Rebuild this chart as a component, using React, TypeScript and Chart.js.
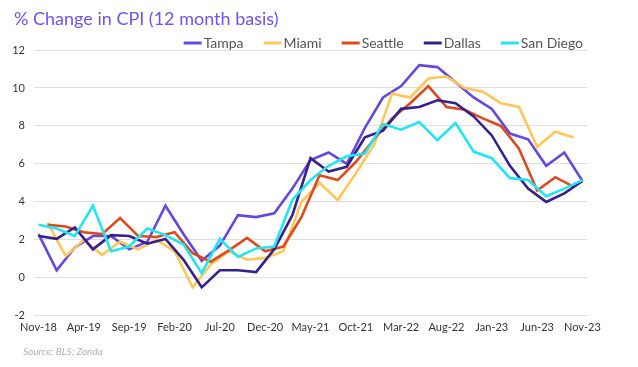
import React, { useEffect, useRef } from "react";
import { Chart, registerables } from "chart.js";

Chart.register(...registerables);

const TITLE = "% Change in CPI (12 month basis)";
const SOURCE = "Source: BLS; Zonda";

// Monthly categories Nov-18 .. Nov-23
const months = [
  "Nov-18", "Dec-18",
  "Jan-19", "Feb-19", "Mar-19", "Apr-19", "May-19", "Jun-19", "Jul-19", "Aug-19", "Sep-19", "Oct-19", "Nov-19", "Dec-19",
  "Jan-20", "Feb-20", "Mar-20", "Apr-20", "May-20", "Jun-20", "Jul-20", "Aug-20", "Sep-20", "Oct-20", "Nov-20", "Dec-20",
  "Jan-21", "Feb-21", "Mar-21", "Apr-21", "May-21", "Jun-21", "Jul-21", "Aug-21", "Sep-21", "Oct-21", "Nov-21", "Dec-21",
  "Jan-22", "Feb-22", "Mar-22", "Apr-22", "May-22", "Jun-22", "Jul-22", "Aug-22", "Sep-22", "Oct-22", "Nov-22", "Dec-22",
  "Jan-23", "Feb-23", "Mar-23", "Apr-23", "May-23", "Jun-23", "Jul-23", "Aug-23", "Sep-23", "Oct-23", "Nov-23",
];

const tickLabels = [
  "Nov-18", "Apr-19", "Sep-19", "Feb-20", "Jul-20", "Dec-20", "May-21",
  "Oct-21", "Mar-22", "Aug-22", "Jan-23", "Jun-23", "Nov-23",
];

const yTicks = [-2, 0, 2, 4, 6, 8, 10, 12];

// Odd calendar months (Nov-18, Jan-19, ... Nov-23)
const tampa = [2.3, 0.4, 1.6, 2.2, 2.2, 1.5, 1.9, 3.8, 2.3, 0.9, 1.7, 3.3, 3.2, 3.4, 4.7, 6.2, 6.6, 6.0, 7.9, 9.5, 10.1, 11.2, 11.1, 10.3, 9.5, 8.9, 7.6, 7.3, 5.9, 6.6, 5.1];
const dallas = [2.2, 2.05, 2.65, 1.5, 2.25, 2.2, 1.8, 2.05, 0.95, -0.5, 0.4, 0.4, 0.3, 1.5, 3.3, 6.3, 5.6, 5.85, 7.4, 7.75, 8.9, 9.0, 9.35, 9.2, 8.5, 7.5, 5.9, 4.7, 4.0, 4.45, 5.1];
const sanDiego = [2.8, 2.6, 2.2, 3.8, 1.4, 1.65, 2.6, 2.25, 1.75, 0.25, 2.05, 1.1, 1.55, 1.65, 4.1, 5.15, 5.9, 6.4, 6.55, 8.1, 7.8, 8.2, 7.25, 8.15, 6.65, 6.3, 5.25, 5.15, 4.3, 4.7, 5.15];

// Even calendar months (Dec-18, Feb-19, ... Oct-23)
const miami = [2.9, 1.15, 2.0, 1.2, 1.9, 1.5, 2.0, 1.4, -0.5, 0.7, 1.4, 0.95, 1.05, 1.4, 4.0, 5.0, 4.1, 5.5, 7.0, 9.7, 9.5, 10.5, 10.6, 10.0, 9.8, 9.2, 9.0, 6.9, 7.7, 7.4];
const seattle = [2.8, 2.7, 2.4, 2.3, 3.15, 2.2, 2.15, 2.4, 1.3, 0.85, 1.45, 2.1, 1.4, 1.65, 3.2, 5.4, 5.15, 6.1, 7.3, 8.4, 9.2, 10.1, 9.0, 8.85, 8.4, 8.0, 6.8, 4.6, 5.3, 4.8];

const seriesNames = ["Tampa", "Miami", "Seattle", "Dallas", "San Diego"];
const seriesColors = ["#6648de", "#ffc65a", "#df4a1c", "#36208c", "#22e5f2"];

// place bimonthly values on the monthly axis (start = first month index)
function spread(values: number[], start: number): (number | null)[] {
  const out: (number | null)[] = months.map(() => null);
  values.forEach((v, i) => {
    out[start + i * 2] = v;
  });
  return out;
}

const FONT = "Lato, 'Open Sans', sans-serif";

const decor = {
  id: "decor",
  afterDraw(chart: any) {
    const ctx = chart.ctx;
    const area = chart.chartArea;
    ctx.save();
    ctx.textBaseline = "middle";
    ctx.textAlign = "left";
    // title
    ctx.font = `18px ${FONT}`;
    ctx.fillStyle = "#7152ea";
    ctx.fillText(TITLE, 14, 19);
    // legend
    ctx.font = `14px ${FONT}`;
    const items = chart.data.datasets.map((d: any) => ({
      label: d.label,
      color: d.borderColor,
      w: ctx.measureText(d.label).width,
    }));
    const lineW = 18, gap = 2, itemGap = 20;
    const total =
      items.reduce((s: number, it: any) => s + lineW + gap + it.w, 0) +
      itemGap * (items.length - 1);
    let x = area.right - 4 - total;
    const y = 43;
    for (const it of items) {
      ctx.strokeStyle = it.color;
      ctx.lineWidth = 3;
      ctx.beginPath();
      ctx.moveTo(x, y);
      ctx.lineTo(x + lineW, y);
      ctx.stroke();
      x += lineW + gap;
      ctx.fillStyle = "#555555";
      ctx.fillText(it.label, x, y + 0.5);
      x += it.w + itemGap;
    }
    // source
    ctx.font = `italic 10px ${FONT}`;
    ctx.fillStyle = "#b0b0b0";
    ctx.fillText(SOURCE, 23, 352);
    ctx.restore();
  },
};

export default function App() {
  const ref = useRef<HTMLCanvasElement | null>(null);

  useEffect(() => {
    if (!ref.current) return;
    const seriesData = [
      spread(tampa, 0),
      spread(miami, 1),
      spread(seattle, 1),
      spread(dallas, 0),
      spread(sanDiego, 0),
    ];
    const chart = new Chart(ref.current, {
      type: "line",
      data: {
        labels: months,
        datasets: seriesNames.map((name, i) => ({
          label: name,
          data: seriesData[i],
          borderColor: seriesColors[i],
          backgroundColor: seriesColors[i],
          borderWidth: 2.6,
          pointRadius: 0,
          pointHoverRadius: 0,
          tension: 0,
          spanGaps: true,
          fill: false,
          order: seriesNames.length - 1 - i,
        })),
      },
      options: {
        responsive: false,
        animation: false,
        layout: { padding: { top: 50, right: 51, bottom: 28, left: 0 } },
        plugins: {
          legend: { display: false },
          title: { display: false },
          tooltip: { enabled: false },
        },
        scales: {
          x: {
            type: "category",
            offset: true,
            grid: { display: false, drawTicks: false },
            border: { display: false },
            ticks: {
              autoSkip: false,
              maxRotation: 0,
              minRotation: 0,
              padding: 5,
              color: "#333333",
              font: { family: FONT, size: 11 },
              callback: (_v: any, idx: number) =>
                tickLabels.includes(months[idx]) ? months[idx] : "",
            },
          },
          y: {
            min: yTicks[0],
            max: yTicks[yTicks.length - 1],
            afterBuildTicks: (scale: any) => {
              scale.ticks = yTicks.map((v) => ({ value: v }));
            },
            afterFit: (scale: any) => {
              scale.width = 34;
            },
            grid: { color: "#dedede", lineWidth: 1, drawTicks: false },
            border: { display: false },
            ticks: {
              padding: 9,
              color: "#333333",
              font: { family: FONT, size: 11 },
            },
          },
        },
      },
      plugins: [decor],
    } as any);
    return () => chart.destroy();
  }, []);

  return (
    <div style={{ position: "absolute", left: 0, top: 0, width: 638, height: 367, background: "#ffffff" }}>
      <canvas ref={ref} width={638} height={367} />
    </div>
  );
}
